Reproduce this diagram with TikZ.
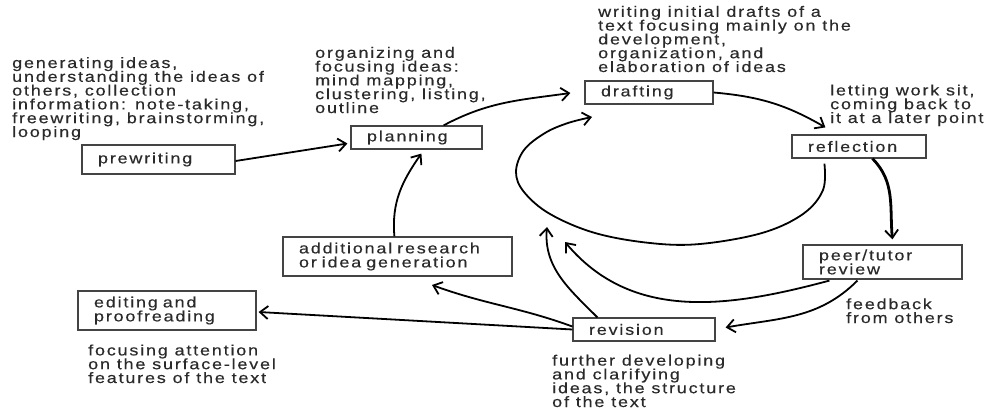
\documentclass[tikz,border=0pt]{standalone}
\usepackage{fontspec}
\setmainfont{Liberation Sans}[FakeStretch=1.2,LetterSpace=12,FakeBold=0.3]
\usetikzlibrary{arrows.meta,calc}
\definecolor{txtcol}{HTML}{2A2A2A}
\definecolor{boxcol}{HTML}{444444}
\begin{document}
\lineskiplimit=-20pt\relax
\begin{tikzpicture}[x=1pt,y=-1pt,
  txt/.style={anchor=base west, align=left, inner sep=0pt, text=txtcol, font=\fontsize{15}{13.8}\selectfont},
  box/.style={draw=boxcol, line width=1.2pt, inner xsep=16pt, inner ysep=0pt, align=left, text=txtcol, font=\fontsize{15}{14}\selectfont},
  arr/.style={draw=black, line width=1.8pt, -{Straight Barb[length=8pt,width=13pt,line width=1.8pt]}},
  thickarr/.style={arr, line width=2.8pt}
]
\useasboundingbox[fill=white] (0,0) rectangle (988,412);

% boxes
\node[box, text width=121pt, minimum height=29pt] (pre) at (158.5,159.5) {prewriting};
\node[box, text width=99pt, minimum height=23pt] (plan) at (416.5,137.5) {planning};
\node[box, text width=96pt, minimum height=23pt] (draft) at (649,92.5) {drafting};
\node[box, text width=102pt, minimum height=23pt] (refl) at (859,146.5) {reflection};
\node[box, text width=127pt, minimum height=34pt] (peer) at (882.5,262) {peer/tutor\\review};
\node[box, text width=197pt, minimum height=39pt] (add) at (397.5,256.5) {additional research\\or idea generation};
\node[box, text width=146pt, minimum height=39pt] (edit) at (167,310.5) {editing and\\proofreading};
\node[box, text width=110pt, minimum height=23pt] (rev) at (644,329.5) {revision};

% descriptions (anchored at the baseline of their last line)
\node[txt] (tgen) at (12,137) {generating ideas,\\understanding the ideas of\\others, collection\\information: note-taking,\\freewriting, brainstorming,\\looping};
\node[txt] (torg) at (315,113) {organizing and\\focusing ideas:\\mind mapping,\\clustering, listing,\\outline};
\node[txt] (twri) at (598,72) {writing initial drafts of a\\text focusing mainly on the\\development,\\organization, and\\elaboration of ideas};
\node[txt] (tlet) at (830,123) {letting work sit,\\coming back to\\it at a later point};
\node[txt] (tfb) at (846,323) {feedback\\from others};
\node[txt] (tfoc) at (88,383) {focusing attention\\on the surface-level\\features of the text};
\node[txt] (tfur) at (552,407) {further developing\\and clarifying\\ideas, the structure\\of the text};

% free ends of connectors
\coordinate (preS) at ($(pre.east)+(0,1.5)$);
\coordinate (planT) at ($(plan.west)+(-3,6)$);
\coordinate (planS) at ($(plan.north east)+(-39,0)$);
\coordinate (draftT) at ($(draft.west)+(-14,0.5)$);
\coordinate (draftS) at (draft.east);
\coordinate (reflT) at ($(refl.north west)+(34,-7)$);
\coordinate (reflS) at ($(refl.south west)+(81,0)$);
\coordinate (peerT) at ($(peer.north west)+(90,-5)$);
\coordinate (ellS) at ($(refl.south west)+(33,5)$);
\coordinate (ellE) at (592,117);
\coordinate (peerS1) at ($(peer.south west)+(55,1)$);
\coordinate (peerS2) at ($(peer.south west)+(27,1)$);
\coordinate (revT) at ($(rev.east)+(10,-2)$);
\coordinate (cycT1) at (565,242);
\coordinate (cycT2) at (547,227);
\coordinate (revN) at ($(rev.north west)+(25,0)$);
\coordinate (revW) at ($(rev.west)+(0,-3)$);
\coordinate (addT) at (432,285);
\coordinate (addN) at ($(add.north west)+(112,0)$);
\coordinate (planB) at ($(plan.south west)+(71,4)$);
\coordinate (editT) at ($(edit.east)+(2,1.5)$);

% connectors
\draw[arr] (preS) -- (planT);
\draw[arr] (planS) to[out=28,in=-172] (draftT);
\draw[arr] (draftS) to[out=-5,in=150] (reflT);
\draw[thickarr] (reflS) to[out=-45,in=95] (peerT);
\draw[arr] plot[smooth, tension=0.6] coordinates {(ellS) (823,190) (803,214) (762,233) (700,244) (650,243) (595,233) (550,214) (524,192) (516,172) (524,150) (545,133) (568,123) (ellE)};
\draw[arr] (peerS1) to[out=-135,in=10] (revT);
\draw[arr] (peerS2) to[out=195,in=-50] (cycT1);
\draw[arr] (revN) to[out=135,in=-95] (cycT2);
\draw[arr] (revW) to[out=160,in=-20] (addT);
\draw[arr] (rev.west) -- (editT);
\draw[arr] (addN) to[out=95,in=-125] (planB);
\end{tikzpicture}
\end{document}
